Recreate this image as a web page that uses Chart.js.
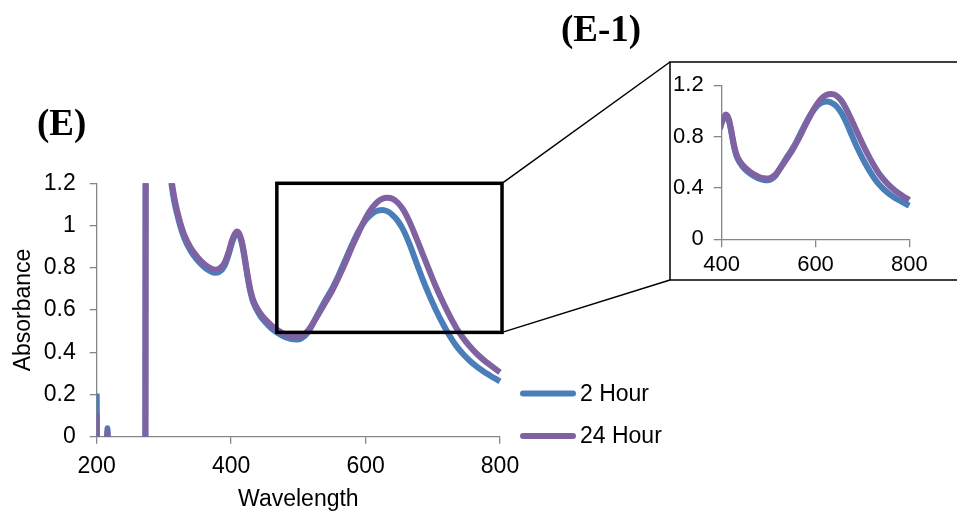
<!DOCTYPE html>
<html>
<head>
<meta charset="utf-8">
<title>Absorbance spectra, 2 Hour vs 24 Hour</title>
<script src="https://cdn.jsdelivr.net/npm/chart.js@4.4.1/dist/chart.umd.min.js"></script>
<style>
  html, body { margin: 0; padding: 0; background: #fff; }
  #wrap { position: relative; width: 957px; height: 518px; overflow: hidden; }
  #main  { position: absolute; left: 0; top: 0; }
  #inset { position: absolute; left: 670px; top: 62px; }
</style>
</head>
<body>
<div id="wrap">
  <canvas id="main" width="957" height="518"></canvas>
  <canvas id="inset" width="287" height="218"></canvas>
</div>
<script>
// ---- spectra (nm, absorbance) ----
const wavelength = [200, 202, 214, 216, 218, 272, 274, 290,
                    305, 310, 315, 320, 325, 330, 340, 350, 360, 370, 376, 382, 390, 396,
                    401, 405, 409, 412, 416, 420, 424, 428, 432, 437,
                    443, 450, 460, 470, 480, 490, 497, 505, 515, 527,
                    540, 550, 560, 570, 580, 590, 600, 610, 618, 625,
                    632, 640, 648, 656, 665, 675, 685, 695, 705, 715,
                    725, 735, 745, 755, 765, 775, 785, 800];
const hour2 = [0.205, -0.6, -0.6, 0.04, -0.6, -0.6, 4.5, 2.5,
               1.40, 1.23, 1.12, 1.05, 0.99, 0.943, 0.878, 0.835, 0.803, 0.782, 0.776, 0.78, 0.808, 0.86,
               0.915, 0.95, 0.966, 0.956, 0.915, 0.845, 0.765, 0.695, 0.645, 0.607,
               0.574, 0.545, 0.513, 0.49, 0.472, 0.462, 0.46, 0.467, 0.497, 0.568,
               0.645, 0.70, 0.765, 0.838, 0.91, 0.975, 1.025, 1.057, 1.07, 1.074,
               1.068, 1.05, 1.022, 0.98, 0.915, 0.83, 0.745, 0.668, 0.598, 0.535,
               0.478, 0.43, 0.392, 0.36, 0.333, 0.31, 0.29, 0.262];
const hour24 = [0.11, -0.6, -0.6, 0.025, -0.6, -0.6, 4.5, 2.6,
                1.42, 1.25, 1.14, 1.065, 1.005, 0.958, 0.893, 0.85, 0.818, 0.797, 0.791, 0.795, 0.822, 0.872,
                0.927, 0.958, 0.972, 0.962, 0.923, 0.855, 0.775, 0.705, 0.655, 0.618,
                0.586, 0.558, 0.527, 0.503, 0.485, 0.475, 0.473, 0.479, 0.505, 0.565,
                0.635, 0.69, 0.755, 0.825, 0.9, 0.97, 1.035, 1.085, 1.113, 1.127,
                1.132, 1.127, 1.108, 1.075, 1.02, 0.945, 0.865, 0.785, 0.708, 0.638,
                0.573, 0.515, 0.468, 0.428, 0.394, 0.365, 0.34, 0.305];
const seriesLabels = ['2 Hour', '24 Hour'];

// ---- axis ticks ----
const mainXTicks  = [200, 400, 600, 800];
const mainYTicks  = [0, 0.2, 0.4, 0.6, 0.8, 1, 1.2];
const insetXTicks = [400, 600, 800];
const insetYTicks = [0, 0.4, 0.8, 1.2];

// region of the main plot enlarged in the inset (nm / absorbance)
const zoomFrom = 468, zoomTo = 803, zoomLow = 0.494, zoomHigh = 1.2;

// ---- styling ----
const BLUE = '#4a7ebb';
const PURPLE = '#7f62a1';
const AXIS_GREY = '#868686';
const SANS = "'Liberation Sans', Arial, sans-serif";
const SERIF = "'Liberation Serif', 'Times New Roman', serif";
const INSET_FRAME = { left: 670, top: 62, bottom: 280 };

function points(values) {
  return wavelength.map((w, i) => ({ x: w, y: values[i] }));
}

function datasets() {
  const common = {
    borderWidth: 6,
    pointRadius: 0,
    cubicInterpolationMode: 'monotone',
    fill: false,
    borderJoinStyle: 'round',
    clip: { left: 0, top: 0, bottom: 0, right: 4 }
  };
  return [
    Object.assign({ label: seriesLabels[0], data: points(hour2),  borderColor: BLUE,   order: 1 }, common),
    Object.assign({ label: seriesLabels[1], data: points(hour24), borderColor: PURPLE, order: 0 }, common)
  ];
}

function axis(opts) {
  return {
    type: 'linear',
    min: opts.min, max: opts.max,
    afterBuildTicks: s => { s.ticks = opts.ticks.map(v => ({ value: v })); },
    afterFit: s => { if (opts.width) s.width = opts.width; if (opts.height) s.height = opts.height; },
    ticks: { color: '#000', font: { family: SANS, size: opts.fontSize }, padding: opts.pad,
             maxRotation: 0, autoSkip: false, callback: v => String(+v.toFixed(2)) },
    grid: { display: true, drawOnChartArea: false, drawTicks: true, tickLength: opts.tickLen, color: AXIS_GREY, lineWidth: 1.3 },
    border: { display: true, color: AXIS_GREY, width: 1.3 },
    title: opts.title ? { display: true, text: opts.title, color: '#000',
                          font: { family: SANS, size: opts.fontSize }, padding: opts.titlePad } : { display: false }
  };
}

// annotations of the main panel: zoom window, connectors, inset frame, legend, panel labels
const overlay = {
  id: 'overlay',
  afterDraw(chart) {
    const ctx = chart.ctx;
    const xs = chart.scales.x, ys = chart.scales.y;
    const x0 = xs.getPixelForValue(zoomFrom), x1 = xs.getPixelForValue(zoomTo);
    const yTop = ys.getPixelForValue(zoomHigh), yBot = ys.getPixelForValue(zoomLow);
    ctx.save();
    ctx.strokeStyle = '#000';
    ctx.lineWidth = 3.5;
    ctx.strokeRect(x0, yTop, x1 - x0, yBot - yTop);

    ctx.lineWidth = 1.5;
    ctx.beginPath();
    ctx.moveTo(x1, yTop); ctx.lineTo(INSET_FRAME.left, INSET_FRAME.top);
    ctx.moveTo(x1, yBot); ctx.lineTo(INSET_FRAME.left, INSET_FRAME.bottom);
    ctx.stroke();
    ctx.strokeRect(INSET_FRAME.left, INSET_FRAME.top, 400, INSET_FRAME.bottom - INSET_FRAME.top);

    // legend
    const rows = [393.5, 436];
    ctx.font = `23px ${SANS}`;
    ctx.textBaseline = 'middle';
    ctx.textAlign = 'left';
    chart.data.datasets.forEach((ds, i) => {
      ctx.strokeStyle = ds.borderColor;
      ctx.lineWidth = 6;
      ctx.lineCap = 'round';
      ctx.beginPath();
      ctx.moveTo(523, rows[i]); ctx.lineTo(573, rows[i]);
      ctx.stroke();
      ctx.fillStyle = '#000';
      ctx.fillText(ds.label, 580, rows[i] + 1);
    });

    // panel labels
    ctx.font = `bold 37px ${SERIF}`;
    ctx.textBaseline = 'alphabetic';
    ctx.fillStyle = '#000';
    ctx.textAlign = 'left';
    ctx.fillText('(E)', 37, 135);
    ctx.textAlign = 'center';
    ctx.fillText('(E-1)', 601, 41);
    ctx.restore();
  }
};

new Chart(document.getElementById('main'), {
  type: 'line',
  data: { datasets: datasets() },
  options: {
    responsive: false,
    animation: false,
    events: [],
    layout: { padding: { left: 0, top: 183.3, right: 457, bottom: 0 } },
    plugins: { legend: { display: false }, tooltip: { enabled: false }, title: { display: false } },
    scales: {
      x: axis({ min: 200, max: 800, ticks: mainXTicks, height: 81.3, fontSize: 23, pad: 9, tickLen: 7,
                title: 'Wavelength', titlePad: { top: 0, bottom: 5 } }),
      y: axis({ min: 0, max: 1.2, ticks: mainYTicks, width: 96.7, fontSize: 23, pad: 14, tickLen: 7,
                title: 'Absorbance', titlePad: { top: 10, bottom: 0 } })
    }
  },
  plugins: [overlay]
});

new Chart(document.getElementById('inset'), {
  type: 'line',
  data: { datasets: datasets() },
  options: {
    responsive: false,
    animation: false,
    events: [],
    layout: { padding: { left: 0, top: 13, right: 47.7, bottom: 0 } },
    plugins: { legend: { display: false }, tooltip: { enabled: false }, title: { display: false } },
    scales: {
      x: axis({ min: 400, max: 800, ticks: insetXTicks, height: 40.7, fontSize: 22, pad: 4.5, tickLen: 8 }),
      y: axis({ min: 0, max: 1.2, ticks: insetYTicks, width: 51.7, fontSize: 22, pad: 10, tickLen: 8 })
    }
  }
});
</script>
</body>
</html>
